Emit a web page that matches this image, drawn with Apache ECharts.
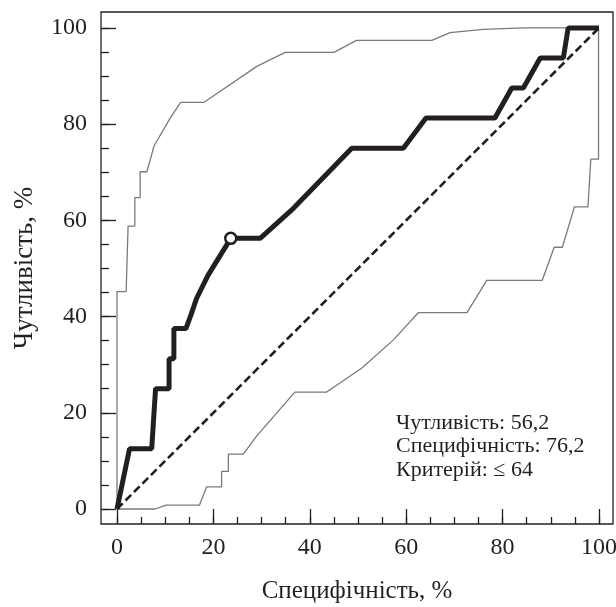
<!DOCTYPE html>
<html>
<head>
<meta charset="utf-8">
<script src="https://cdn.jsdelivr.net/npm/echarts@6/dist/echarts.min.js"></script>
<style>
html,body{margin:0;padding:0;background:#fff;}
#chart{width:616px;height:607px;}
</style>
</head>
<body>
<div id="chart"></div>
<script>
// ROC curve (specificity %, sensitivity %)
const rocX = [0, 2.6, 7.2, 8.0, 10.8, 10.8, 11.8, 11.8, 14.3, 15.4, 16.5, 18.9, 23.6, 29.7, 36.6, 48.7, 59.4, 64.1, 78.4, 81.9, 84.3, 87.8, 92.6, 93.6, 100];
const rocY = [0, 12.5, 12.5, 25, 25, 31.25, 31.25, 37.5, 37.5, 40.5, 43.75, 48.6, 56.25, 56.25, 62.5, 75, 75, 81.25, 81.25, 87.5, 87.5, 93.75, 93.75, 100, 100];
// upper confidence bound
const upperX = [0, 0, 1.9, 2.3, 3.7, 3.7, 4.8, 4.8, 6.2, 7.7, 11.0, 13.2, 18.0, 29.0, 34.9, 45.0, 49.7, 65.3, 69.1, 76.0, 84.3, 100];
const upperY = [0, 45.2, 45.2, 58.8, 58.8, 64.7, 64.7, 70.1, 70.1, 75.5, 81.2, 84.5, 84.5, 92.0, 94.9, 94.9, 97.4, 97.4, 99.0, 99.7, 100, 100];
// lower confidence bound
const lowerX = [0, 7.9, 10.2, 17.1, 18.6, 21.7, 21.7, 23.1, 23.1, 26.2, 29.0, 36.9, 43.5, 50.8, 57.3, 62.5, 72.6, 76.7, 88.2, 88.2, 90.7, 92.4, 94.9, 97.7, 98.3, 99.9, 99.9];
const lowerY = [0, 0, 0.8, 0.8, 4.6, 4.6, 7.8, 7.8, 11.4, 11.4, 15.2, 24.3, 24.3, 29.3, 35.1, 40.8, 40.8, 47.5, 47.5, 47.6, 54.4, 54.4, 62.8, 62.8, 72.7, 72.7, 100];
// reference diagonal
const diagX = [0, 100];
const diagY = [0, 100];
// optimal cut-off point
const cutX = [23.6];
const cutY = [56.25];
// ticks
const majorTicks = [0, 20, 40, 60, 80, 100];
const minorTicks = [0, 5, 10, 15, 20, 25, 30, 35, 40, 45, 50, 55, 60, 65, 70, 75, 80, 85, 90, 95, 100];
const xTitle = 'Специфічність, %';
const yTitle = 'Чутливість, %';
const notes = ['Чутливість: 56,2', 'Специфічність: 76,2', 'Критерій: ≤ 64'];

const zip = (a, b) => a.map((v, i) => [v, b[i]]);
const FONT = '"Liberation Serif", "Times New Roman", serif';
const TXT = '#231f20';
const LINE = '#231f20';

const XMIN = -3.32, XMAX = 102.9, YMIN = -3.12, YMAX = 103.3;

function mkAxis(ticks, len, extra) {
  return Object.assign({
    type: 'value',
    axisLine: { show: false, onZero: true, onZeroAxisIndex: 2, lineStyle: { color: LINE, width: 1.3 } },
    splitLine: { show: false },
    axisTick: { show: true, inside: true, length: len, customValues: ticks, lineStyle: { color: LINE, width: 1.3 } },
    axisLabel: { show: false }
  }, extra);
}
// hidden helper axes whose zero sits on the grid edge (used as onZero anchor)
const helperX = { type: 'value', show: false, min: 0, max: XMAX - XMIN, position: 'top', splitLine: { show: false } };
const helperY = { type: 'value', show: false, min: 0, max: YMAX - YMIN, position: 'right', splitLine: { show: false } };

const chart = echarts.init(document.getElementById('chart'), null, { renderer: 'canvas' });
chart.setOption({
  animation: false,
  backgroundColor: '#fff',
  grid: { left: 101, top: 12, right: 3, bottom: 83, show: true, borderColor: LINE, borderWidth: 1.3, outerBoundsMode: 'none' },
  xAxis: [
    mkAxis(minorTicks, 7, { min: XMIN, max: XMAX, position: 'bottom' }),
    mkAxis(majorTicks, 15, { min: XMIN, max: XMAX, position: 'bottom',
      name: xTitle, nameLocation: 'middle', nameGap: 55,
      nameTextStyle: { fontFamily: FONT, fontSize: 25, color: TXT },
      axisLabel: { show: true, customValues: majorTicks, fontFamily: FONT, fontSize: 24, color: TXT, margin: 12 } }),
    helperX
  ],
  yAxis: [
    mkAxis(minorTicks, 8, { min: YMIN, max: YMAX, position: 'left' }),
    mkAxis(majorTicks, 15, { min: YMIN, max: YMAX, position: 'left',
      name: yTitle, nameLocation: 'middle', nameGap: 63, nameRotate: 90,
      nameTextStyle: { fontFamily: FONT, fontSize: 27, color: TXT },
      axisLabel: { show: true, customValues: majorTicks, fontFamily: FONT, fontSize: 24, color: TXT, margin: 14 } }),
    helperY
  ],
  series: [
    { type: 'line', xAxisIndex: 1, yAxisIndex: 1, data: zip(upperX, upperY), symbol: 'none', lineStyle: { color: '#7a7a7a', width: 1.3 }, z: 2 },
    { type: 'line', xAxisIndex: 1, yAxisIndex: 1, data: zip(lowerX, lowerY), symbol: 'none', lineStyle: { color: '#7a7a7a', width: 1.3 }, z: 2 },
    { type: 'line', xAxisIndex: 1, yAxisIndex: 1, data: zip(diagX, diagY), symbol: 'none', lineStyle: { color: LINE, width: 2.6, type: [8, 4] }, z: 3 },
    { type: 'line', xAxisIndex: 1, yAxisIndex: 1, data: zip(rocX, rocY), symbol: 'none', lineStyle: { color: LINE, width: 5 }, z: 4 },
    { type: 'scatter', xAxisIndex: 1, yAxisIndex: 1, data: zip(cutX, cutY), symbol: 'circle', symbolSize: 11, itemStyle: { color: '#fff', borderColor: LINE, borderWidth: 2.5, opacity: 1 }, z: 5 }
  ],
  graphic: [
    { type: 'text', left: 396, top: 411, style: { text: notes.join('\n'), fontFamily: FONT, fontSize: 22, lineHeight: 23.5, fill: TXT } }
  ]
});
</script>
</body>
</html>
